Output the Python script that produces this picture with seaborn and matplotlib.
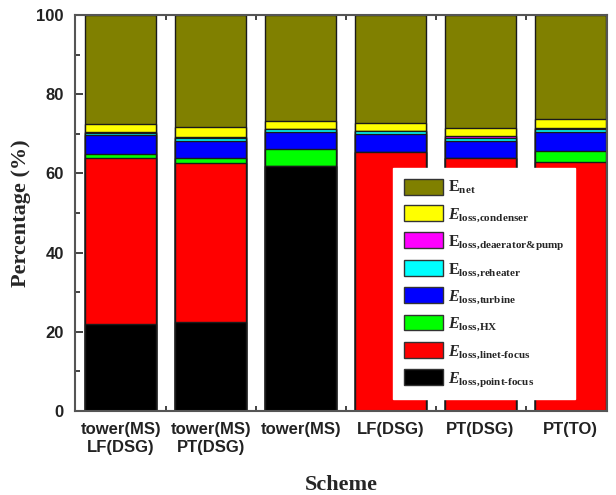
import numpy as np
import pandas as pd
import matplotlib
matplotlib.use("Agg")
import matplotlib.pyplot as plt
from matplotlib.patches import Patch
from matplotlib.ticker import MultipleLocator
import seaborn as sns

# Schemes on the x axis
schemes = ["tower(MS)\nLF(DSG)", "tower(MS)\nPT(DSG)", "tower(MS)", "LF(DSG)", "PT(DSG)", "PT(TO)"]

# Exergy shares (%) per scheme, stacked from the bottom up
loss_point_focus = [21.9, 22.5, 61.9, 0.0, 0.0, 0.0]
loss_line_focus  = [41.9, 40.2, 0.0, 65.5, 63.8, 63.0]
loss_hx          = [1.2, 1.1, 4.3, 0.0, 0.0, 2.7]
loss_turbine     = [4.6, 4.5, 4.2, 4.5, 4.5, 4.8]
loss_reheater    = [0.6, 0.7, 0.7, 0.6, 0.7, 0.6]
loss_deaerator   = [0.2, 0.3, 0.2, 0.2, 0.4, 0.3]
loss_condenser   = [2.2, 2.3, 1.9, 2.0, 2.1, 2.3]
net              = [27.4, 28.4, 26.8, 27.2, 28.5, 26.3]

layers = [
    ("point", loss_point_focus, "#000000", r"$E_{\text{loss,point-focus}}$"),
    ("line", loss_line_focus, "#FF0000", r"$E_{\text{loss,linet-focus}}$"),
    ("hx", loss_hx, "#00FF00", r"$E_{\text{loss,HX}}$"),
    ("turbine", loss_turbine, "#0000FF", r"$E_{\text{loss,turbine}}$"),
    ("reheater", loss_reheater, "#00FFFF", r"$\text{E}_{\text{loss,reheater}}$"),
    ("deaerator", loss_deaerator, "#FF00FF", r"$\text{E}_{\text{loss,deaerator\&pump}}$"),
    ("condenser", loss_condenser, "#FFFF00", r"$E_{\text{loss,condenser}}$"),
    ("net", net, "#808000", r"$\text{E}_{\text{net}}$"),
]

sns.set_style("ticks")
plt.rcParams["mathtext.fontset"] = "custom"
plt.rcParams["mathtext.rm"] = "Liberation Serif:bold"
plt.rcParams["mathtext.it"] = "Liberation Serif:italic:bold"
plt.rcParams["mathtext.bf"] = "Liberation Serif:bold"

fig = plt.figure(figsize=(6.16, 4.95), dpi=100)
ax = fig.add_axes([0.1218, 0.1697, 0.8636, 0.8000])

# cumulative tops, drawn from the highest layer down so each segment shows
cum = np.cumsum(np.array([l[1] for l in layers]), axis=0)
for i in range(len(layers) - 1, -1, -1):
    df = pd.DataFrame({"scheme": schemes, "top": cum[i]})
    sns.barplot(data=df, x="scheme", y="top", color=layers[i][2], width=0.79,
                edgecolor="#1a1a1a", linewidth=1.0, saturation=1, ax=ax, zorder=2)

ax.set_xlim(-0.506, 5.405)
ax.set_ylim(0, 100)
ax.yaxis.set_major_locator(MultipleLocator(20))
ax.yaxis.set_minor_locator(MultipleLocator(10))
ax.set_xticks(range(len(schemes)))
ax.set_xticks(np.arange(0.5, 5.0, 1.0), minor=True)
ax.set_xticklabels(schemes, fontsize=12, fontweight="bold", family="Liberation Sans",
                   linespacing=1.25)
for lab in ax.get_yticklabels():
    lab.set_fontsize(12)
    lab.set_fontweight("bold")
    lab.set_family("Liberation Sans")
ax.tick_params(which="both", direction="in", top=True, right=True, width=1.2, colors="#222222")
ax.tick_params(which="major", length=6, pad=8)
ax.tick_params(which="minor", length=3.5)
for s in ax.spines.values():
    s.set_linewidth(1.5)
    s.set_color("#555555")

ax.set_xlabel("Scheme", fontsize=16, fontweight="bold", family="Liberation Serif", labelpad=14)
ax.set_ylabel("Percentage (%)", fontsize=16, fontweight="bold", family="Liberation Serif", labelpad=4)

handles = [Patch(facecolor=l[2], edgecolor="#333333", linewidth=1.0) for l in layers[::-1]]
labels = [l[3] for l in layers[::-1]]
leg = ax.legend(handles, labels, loc="lower left", bbox_to_anchor=(0.598, 0.03),
                fontsize=11.5, frameon=True, fancybox=False, framealpha=1.0,
                edgecolor="white", handlelength=2.45, handleheight=1.15,
                labelspacing=0.52, handletextpad=0.35, borderpad=0.65,
                borderaxespad=0.0)
leg.set_zorder(5)

fig.savefig("out.png", dpi=100)
